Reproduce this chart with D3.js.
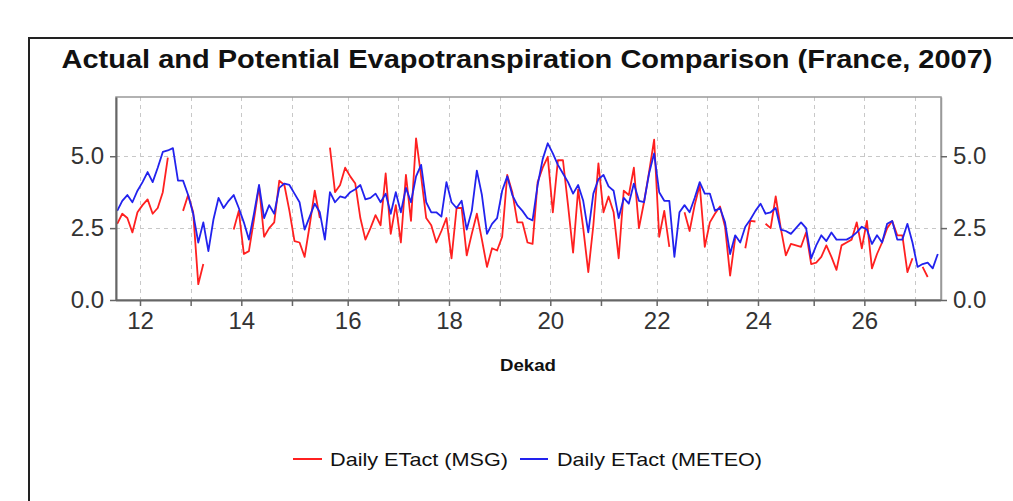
<!DOCTYPE html>
<html><head><meta charset="utf-8">
<script src="https://cdn.jsdelivr.net/npm/d3@7"></script>
<style>
html,body{margin:0;padding:0;background:#fff;}
svg{display:block;font-family:"Liberation Sans",Arial,Helvetica,sans-serif;}
</style></head>
<body><svg id="chart" width="1013" height="501"></svg>
<script>
// ---- data ----
const titleText = "Actual and Potential Evapotranspiration Comparison (France, 2007)";
const xAxisTitle = "Dekad";
const seriesNames = ["Daily ETact (MSG)", "Daily ETact (METEO)"];
const firstDay = Date.UTC(2007, 3, 16, 12); // Apr 16 2007, daily values
const dekadTicks = [12,13,14,15,16,17,18,19,20,21,22,23,24,25,26,27];
const dekadLabels = ["12","","14","","16","","18","","20","","22","","24","","26",""];
const yTicks = [0, 2.5, 5.0];

const msg = [
2.65,3.0,2.85,2.35,3.05,3.3,3.5,3.0,3.2,3.75,
4.95,null,null,3.1,3.65,3.05,0.55,1.25,null,null,
null,null,null,2.45,3.1,1.6,1.7,2.8,3.95,2.2,
2.5,2.7,4.15,4.0,3.1,2.05,2.0,1.5,2.6,3.8,
2.85,null,5.3,3.75,4.0,4.6,4.3,4.05,2.85,2.1,
2.5,2.95,2.6,4.4,2.3,3.3,2.0,4.35,2.75,5.62,
4.3,2.85,2.6,2.0,2.4,2.85,1.45,3.2,3.2,1.55,
2.3,3.0,2.1,1.15,1.8,1.72,2.2,4.35,3.75,2.7,
2.7,2.0,1.95,4.1,4.6,4.98,3.05,4.86,4.86,3.3,
1.65,3.85,2.5,0.97,2.6,4.75,3.05,3.6,3.05,1.45,
3.8,3.65,4.6,2.5,3.4,4.45,5.58,2.2,3.1,1.85,
null,null,3.05,2.4,3.3,4.0,1.85,2.7,3.0,3.25,
2.55,0.85,2.15,null,1.8,2.75,2.73,null,2.65,2.5,
3.6,2.5,1.55,1.95,1.9,1.85,2.35,1.25,1.3,1.5,
1.9,1.5,1.05,1.9,2.0,2.1,2.7,1.8,2.75,1.1,
1.6,2.0,2.5,2.75,2.25,2.25,0.97,1.45,null,1.15,
0.8
];
const meteo = [
3.1,3.45,3.65,3.4,3.8,4.1,4.45,4.1,4.6,5.15,
5.2,5.28,4.15,4.15,3.65,3.0,2.0,2.7,1.7,2.8,
3.55,3.2,3.45,3.65,3.2,2.7,2.1,3.0,4.0,2.85,
3.3,3.0,3.9,4.05,4.0,3.7,3.4,2.45,2.9,3.35,
3.05,2.1,3.75,3.4,3.6,3.55,3.75,3.85,4.0,3.5,
3.55,3.7,3.4,3.7,3.0,3.75,3.05,3.9,3.4,4.3,
4.7,3.4,3.05,3.05,2.9,4.1,3.4,3.2,3.45,2.45,
3.1,4.5,3.65,2.3,2.65,2.85,3.8,4.3,3.65,3.3,
3.1,2.85,2.77,4.0,4.9,5.45,5.1,4.7,4.4,4.1,
3.7,4.0,3.45,2.35,3.7,4.2,4.35,3.95,3.8,2.85,
3.55,3.35,4.05,3.45,3.4,4.4,5.1,3.75,3.45,3.45,
1.5,3.05,3.3,3.05,3.55,4.1,3.7,3.7,3.1,3.2,
2.7,1.6,2.25,2.0,2.55,2.8,3.1,3.35,3.0,3.05,
3.2,2.45,2.4,2.3,2.5,2.7,2.5,1.45,1.9,2.25,
2.05,2.35,2.1,2.1,2.1,2.2,2.35,2.55,2.45,1.95,
2.25,2.0,2.65,2.75,2.1,2.1,2.65,2.0,1.15,1.25,
1.3,1.1,1.6
];

// ---- helpers ----
const DAY = 86400000;
function dekadDate(n){ const m = Math.floor((n-1)/3), p = (n-1)%3; return new Date(Date.UTC(2007, m, [1,11,21][p])); }
const dates = d => new Date(firstDay + d*DAY);

// ---- layout ----
const svg = d3.select("#chart");
const L = 116, R = 941, T = 97, B = 300;

svg.append("rect").attr("x",0).attr("y",0).attr("width",1013).attr("height",501).attr("fill","#fff");
// outer frame (top & left visible)
svg.append("path").attr("d","M29,501 V38 H1013").attr("fill","none").attr("stroke","#222").attr("stroke-width",2);

const x = d3.scaleUtc()
  .domain([new Date(Date.UTC(2007,3,16,6,17)), new Date(Date.UTC(2007,8,25,22,26))])
  .range([L, 940]);
const y = d3.scaleLinear().domain([0, 7.06]).range([B, T]);

// title
svg.append("text").attr("x",527).attr("y",68).attr("text-anchor","middle")
  .attr("font-size",26).attr("font-weight","bold").attr("fill","#111")
  .attr("textLength",931).attr("lengthAdjust","spacingAndGlyphs").text(titleText);

// plot bg
svg.append("rect").attr("x",L).attr("y",T).attr("width",R-L).attr("height",B-T).attr("fill","#fff");

// grid
const g = svg.append("g");
g.selectAll(".vg").data(dekadTicks).enter().append("line")
  .attr("x1",d=>Math.round(x(dekadDate(d)))+0.5).attr("x2",d=>Math.round(x(dekadDate(d)))+0.5)
  .attr("y1",T).attr("y2",B).attr("stroke","#c8c8c8").attr("stroke-dasharray","4,4");
g.selectAll(".hg").data(yTicks.filter(v=>v>0)).enter().append("line")
  .attr("x1",L).attr("x2",R).attr("y1",d=>Math.round(y(d))+0.5).attr("y2",d=>Math.round(y(d))+0.5)
  .attr("stroke","#c8c8c8").attr("stroke-dasharray","4,4");

// plot border
svg.append("rect").attr("x",L).attr("y",T).attr("width",R-L).attr("height",B-T)
  .attr("fill","none").attr("stroke","#999").attr("stroke-width",1.5);

// lines
const line = d3.line().defined(d=>d.v!=null).x(d=>x(d.t)).y(d=>y(d.v));
const msgData = msg.map((v,i)=>({t:dates(i), v}));
const meteoData = meteo.map((v,i)=>({t:dates(i), v}));
svg.append("path").datum(msgData).attr("d",line).attr("fill","none").attr("stroke","#ff2020").attr("stroke-width",1.8).attr("stroke-linejoin","round");
svg.append("path").datum(meteoData).attr("d",line).attr("fill","none").attr("stroke","#2222ee").attr("stroke-width",1.8).attr("stroke-linejoin","round");

// axes
function styleAxis(sel){
  sel.select(".domain").attr("stroke","#666").attr("stroke-width",2);
  sel.selectAll(".tick line").attr("stroke","#666").attr("stroke-width",1.5);
  sel.selectAll(".tick text").attr("fill","#333").attr("font-size",24).attr("font-family","Liberation Sans, Arial, sans-serif");
}
const yl = svg.append("g").attr("transform",`translate(${L},0)`)
  .call(d3.axisLeft(y).tickValues(yTicks).tickFormat(d3.format(".1f")).tickSize(6).tickSizeOuter(0).tickPadding(6));
styleAxis(yl);
const yr = svg.append("g").attr("transform",`translate(${R},0)`)
  .call(d3.axisRight(y).tickValues(yTicks).tickFormat(d3.format(".1f")).tickSize(6).tickSizeOuter(0).tickPadding(6));
styleAxis(yr); yr.select(".domain").attr("stroke","#999").attr("stroke-width",1.5);
const xa = svg.append("g").attr("transform",`translate(0,${B})`)
  .call(d3.axisBottom(x).tickValues(dekadTicks.map(dekadDate)).tickFormat((d,i)=>dekadLabels[i]).tickSize(6).tickSizeOuter(0).tickPadding(6));
styleAxis(xa);
xa.select(".domain").attr("d",`M${L},0.5H${R}`);

// x title
svg.append("text").attr("x",528).attr("y",371).attr("text-anchor","middle")
  .attr("font-size",17).attr("font-weight","bold").attr("fill","#111")
  .attr("textLength",56).attr("lengthAdjust","spacingAndGlyphs").text(xAxisTitle);

// legend
const legendItems = [
  {name:seriesNames[0], color:"#ff2020", x1:293, x2:322, tx:330, tw:178},
  {name:seriesNames[1], color:"#2222ee", x1:520, x2:548, tx:557, tw:205}
];
legendItems.forEach(it=>{
  svg.append("line").attr("x1",it.x1).attr("x2",it.x2).attr("y1",459).attr("y2",459).attr("stroke",it.color).attr("stroke-width",2);
  svg.append("text").attr("x",it.tx).attr("y",466).attr("font-size",19).attr("fill","#111")
    .attr("textLength",it.tw).attr("lengthAdjust","spacingAndGlyphs").text(it.name);
});
</script></body></html>
